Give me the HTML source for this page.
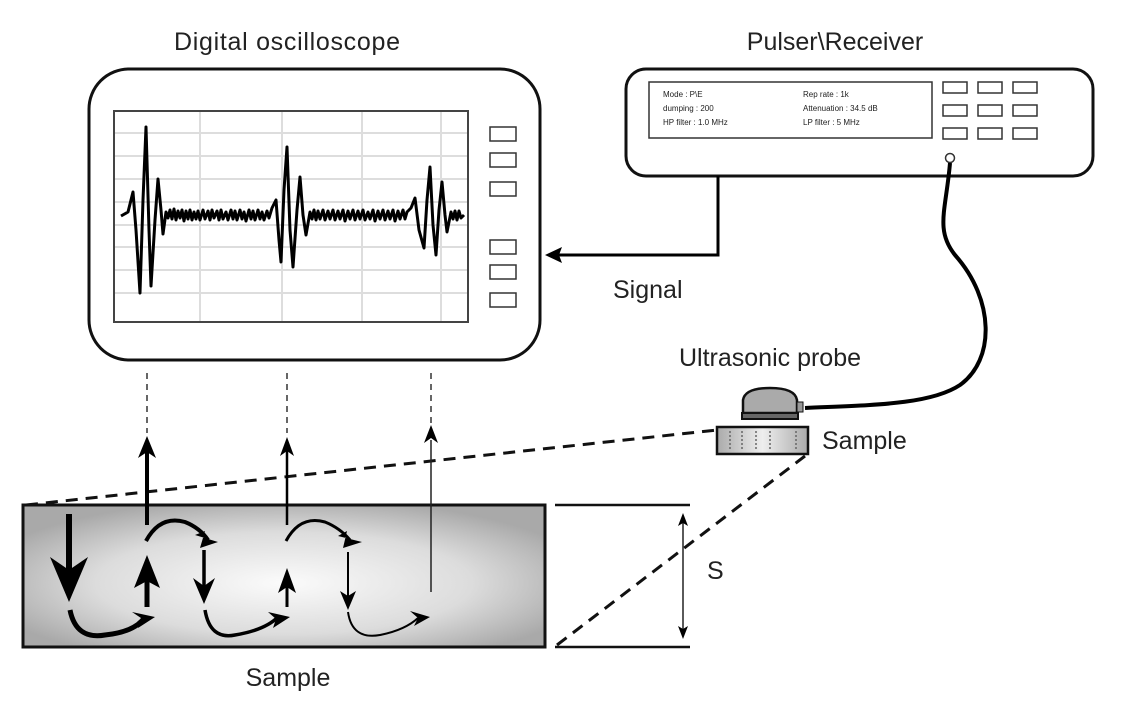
<!DOCTYPE html>
<html><head><meta charset="utf-8"><style>
html,body{margin:0;padding:0;background:#fff;}
svg{display:block;}
text{font-family:"Liberation Sans",sans-serif;fill:#222;}
</style></head><body>
<svg width="1122" height="708" viewBox="0 0 1122 708" xmlns="http://www.w3.org/2000/svg">
<defs>
<radialGradient id="g" cx="0.5" cy="0.55" r="0.6">
<stop offset="0" stop-color="#fbfbfb"/><stop offset="0.6" stop-color="#dcdcdc"/><stop offset="1" stop-color="#a9a9a9"/></radialGradient>
<linearGradient id="gs" x1="0" x2="1"><stop offset="0" stop-color="#aaa"/><stop offset="0.5" stop-color="#eee"/><stop offset="1" stop-color="#aaa"/></linearGradient>
</defs>
<text x="287" y="50" font-size="25" text-anchor="middle" textLength="226">Digital oscilloscope</text>
<text x="835" y="50" font-size="25" text-anchor="middle">Pulser\Receiver</text>
<!-- oscilloscope -->
<rect x="89" y="69" width="451" height="291" rx="40" fill="#fff" stroke="#111" stroke-width="3"/>
<rect x="114" y="111" width="354" height="211" fill="#fff" stroke="#444" stroke-width="2"/>
<g stroke="#ddd" stroke-width="2">
<line x1="200" y1="112" x2="200" y2="321"/><line x1="282" y1="112" x2="282" y2="321"/><line x1="362" y1="112" x2="362" y2="321"/><line x1="441" y1="112" x2="441" y2="321"/>
<line x1="115" y1="133" x2="467" y2="133"/><line x1="115" y1="156" x2="467" y2="156"/><line x1="115" y1="179" x2="467" y2="179"/><line x1="115" y1="202" x2="467" y2="202"/><line x1="115" y1="225" x2="467" y2="225"/><line x1="115" y1="247" x2="467" y2="247"/><line x1="115" y1="270" x2="467" y2="270"/><line x1="115" y1="293" x2="467" y2="293"/>
</g>
<polyline fill="none" stroke="#000" stroke-width="3" stroke-linejoin="round" points="121,216 128,212 133,192 136,230 140,293 143,200 146,127 149,230 151,286 155,220 158,179 161,210 163,234 166,212 168,218 170,210 172,219 174,209 176,220 178,211 180,218 182,210 184,221 186,211 188,219 190,210 192,220 194,212 196,219 198,211 200,220 203,210 205,219 208,211 210,220 212,210 214,218 217,211 219,220 221,210 223,219 226,212 228,220 231,210 233,219 235,211 237,220 240,210 242,219 244,212 246,221 249,210 251,219 253,211 255,220 258,210 260,219 262,212 264,220 267,211 269,218 272,208 276,200 279,240 281,262 284,190 287,147 290,230 293,267 297,210 300,177 303,215 306,235 310,212 312,219 314,210 316,220 318,211 320,219 323,210 325,220 328,211 330,219 333,210 335,220 338,211 340,219 343,210 345,221 348,211 350,219 353,210 355,220 358,211 360,219 363,210 365,220 368,212 370,219 373,210 375,221 378,211 380,219 383,210 385,220 388,211 390,219 393,210 395,221 398,211 400,219 403,210 405,219 407,212 411,208 415,198 419,230 424,248 427,200 430,167 433,225 436,255 439,210 442,182 445,215 447,232 451,212 453,219 455,211 457,220 459,211 461,218 464,215"/>
<g fill="#fff" stroke="#333" stroke-width="1.5">
<rect x="490" y="127" width="26" height="14"/><rect x="490" y="153" width="26" height="14"/><rect x="490" y="182" width="26" height="14"/>
<rect x="490" y="240" width="26" height="14"/><rect x="490" y="265" width="26" height="14"/><rect x="490" y="293" width="26" height="14"/>
</g>
<!-- pulser -->
<rect x="626" y="69" width="467" height="107" rx="20" fill="#fff" stroke="#111" stroke-width="3"/>
<rect x="649" y="82" width="283" height="56" fill="#fff" stroke="#333" stroke-width="1.5"/>
<g font-size="8" fill="#444">
<text x="663" y="97">Mode : P\E</text><text x="663" y="111">dumping : 200</text><text x="663" y="125">HP filter : 1.0 MHz</text>
<text x="803" y="97">Rep rate : 1k</text><text x="803" y="111">Attenuation : 34.5 dB</text><text x="803" y="125">LP filter : 5 MHz</text>
</g>
<g fill="#fff" stroke="#333" stroke-width="1.5">
<rect x="943" y="82" width="24" height="11"/><rect x="978" y="82" width="24" height="11"/><rect x="1013" y="82" width="24" height="11"/>
<rect x="943" y="105" width="24" height="11"/><rect x="978" y="105" width="24" height="11"/><rect x="1013" y="105" width="24" height="11"/>
<rect x="943" y="128" width="24" height="11"/><rect x="978" y="128" width="24" height="11"/><rect x="1013" y="128" width="24" height="11"/>
</g>
<circle cx="950" cy="158" r="4.5" fill="#fff" stroke="#333" stroke-width="1.5"/>
<!-- signal -->
<polyline points="718,176 718,255 556,255" fill="none" stroke="#000" stroke-width="3"/>
<path d="M545,255 L562,247 L559,255 L562,263z" fill="#000"/>
<text x="613" y="298" font-size="25">Signal</text>
<!-- cable -->
<path d="M950,163 C946,210 935,230 955,255 C995,300 995,360 960,385 C930,405 870,405 805,408" fill="none" stroke="#000" stroke-width="4"/>
<text x="770" y="366" font-size="25" text-anchor="middle">Ultrasonic probe</text>
<!-- probe -->
<path d="M743,413 L743,400 Q745,388 770,388 Q795,388 797,400 L797,413z" fill="#aaa" stroke="#111" stroke-width="2.5"/>
<rect x="797" y="402" width="6" height="10" fill="#999" stroke="#111" stroke-width="1"/>
<rect x="742" y="413" width="56" height="6" fill="#666" stroke="#111" stroke-width="2"/>
<rect x="717" y="427" width="91" height="27" fill="url(#gs)" stroke="#111" stroke-width="2.5"/>
<g stroke="#666" stroke-width="1.5" stroke-dasharray="2,2"><line x1="730" y1="431" x2="730" y2="450"/><line x1="742" y1="431" x2="742" y2="450"/><line x1="756" y1="431" x2="756" y2="450"/><line x1="770" y1="431" x2="770" y2="450"/><line x1="796" y1="431" x2="796" y2="450"/></g>
<text x="822" y="449" font-size="25">Sample</text>
<!-- dashed lines -->
<g stroke="#111" stroke-width="3" stroke-dasharray="12,8" fill="none">
<line x1="26" y1="505" x2="717" y2="430"/>
<line x1="557" y1="645" x2="805" y2="456"/>
</g>
<g stroke="#333" stroke-width="1.5" stroke-dasharray="6,5">
<line x1="147" y1="373" x2="147" y2="433"/><line x1="287" y1="373" x2="287" y2="433"/><line x1="431" y1="373" x2="431" y2="425"/>
</g>
<!-- big sample -->
<rect x="23" y="505" width="522" height="142" fill="url(#g)" stroke="#111" stroke-width="3"/>
<!-- up arrows -->
<line x1="147" y1="525" x2="147" y2="450" stroke="#000" stroke-width="4"/><path d="M147,436 L156,458 L147,452 L138,458z" fill="#000"/>
<line x1="287" y1="525" x2="287" y2="450" stroke="#000" stroke-width="2.5"/><path d="M287,437 L294,456 L287,451 L280,456z" fill="#000"/>
<line x1="431" y1="592" x2="431" y2="440" stroke="#222" stroke-width="1.5"/><path d="M431,425 L438,443 L431,438 L424,443z" fill="#000"/>
<!-- inner arrows -->
<line x1="69" y1="514" x2="69" y2="580" stroke="#000" stroke-width="6"/><path d="M69,602 L50,557 L69,570 L88,557z" fill="#000"/>
<line x1="147" y1="607" x2="147" y2="575" stroke="#000" stroke-width="5"/><path d="M147,555 L160,588 L147,581 L134,588z" fill="#000"/>
<line x1="204" y1="550" x2="204" y2="590" stroke="#000" stroke-width="3.5"/><path d="M204,604 L193,578 L204,586 L215,578z" fill="#000"/>
<line x1="287" y1="607" x2="287" y2="585" stroke="#000" stroke-width="3"/><path d="M287,568 L296,593 L287,587 L278,593z" fill="#000"/>
<line x1="348" y1="552" x2="348" y2="598" stroke="#000" stroke-width="2"/><path d="M348,610 L340,591 L348,596 L356,591z" fill="#000"/>
<!-- arcs -->
<path d="M146,541 Q160,515 185,522 Q200,528 208,540" fill="none" stroke="#000" stroke-width="4"/><path d="M218,542 L195,535 L205,531 L200,548z" fill="#000"/>
<path d="M286,541 Q300,515 325,522 Q340,528 350,540" fill="none" stroke="#000" stroke-width="3"/><path d="M362,542 L338,536 L347,531 L343,548z" fill="#000"/>
<path d="M70,610 Q76,640 105,635 Q135,632 145,617" fill="none" stroke="#000" stroke-width="5"/><path d="M155,617 L132,612 L141,618 L138,628z" fill="#000"/>
<path d="M205,610 Q210,640 235,635 Q265,630 278,617" fill="none" stroke="#000" stroke-width="3.5"/><path d="M290,617 L268,612 L276,619 L273,628z" fill="#000"/>
<path d="M348,612 Q352,640 380,635 Q405,630 418,618" fill="none" stroke="#000" stroke-width="2"/><path d="M430,617 L410,611 L418,618 L414,626z" fill="#000"/>
<!-- S bracket -->
<line x1="555" y1="505" x2="690" y2="505" stroke="#111" stroke-width="2.5"/>
<line x1="555" y1="647" x2="690" y2="647" stroke="#111" stroke-width="2.5"/>
<line x1="683" y1="522" x2="683" y2="630" stroke="#222" stroke-width="1.5"/>
<path d="M683,513 L688,526 L683,523 L678,526z M683,639 L688,626 L683,629 L678,626z" fill="#000"/>
<text x="707" y="579" font-size="25">S</text>
<text x="288" y="686" font-size="25" text-anchor="middle">Sample</text>
</svg>
</body></html>
